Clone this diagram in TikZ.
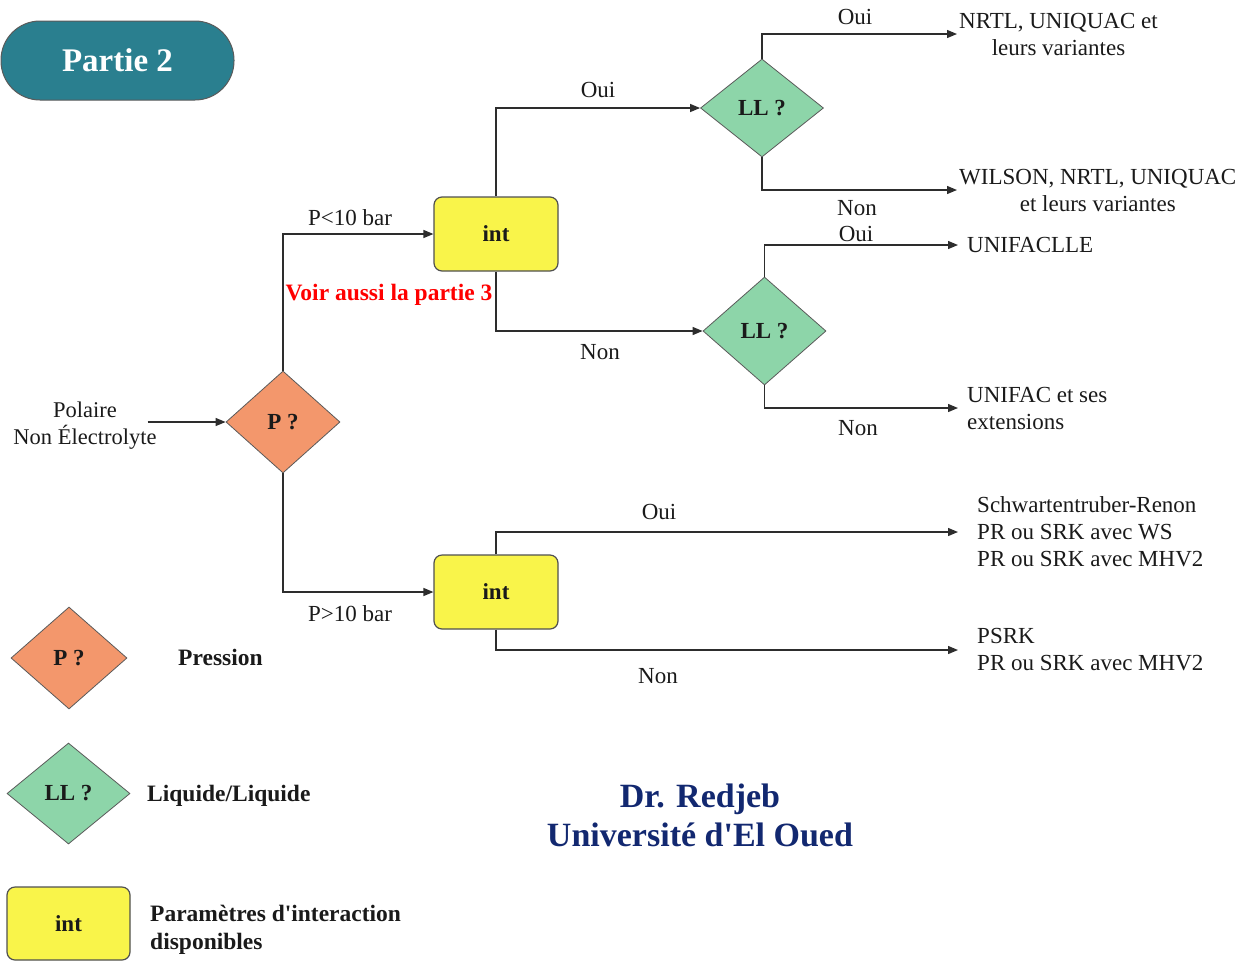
\documentclass[tikz,border=0pt]{standalone}
\usepackage{fontspec}
\setmainfont{Liberation Serif}
\usetikzlibrary{shapes.geometric,arrows.meta}
\definecolor{tealc}{RGB}{42,127,143}
\definecolor{salmon}{RGB}{243,151,108}
\definecolor{llgreen}{RGB}{141,213,169}
\definecolor{intyellow}{RGB}{249,244,74}
\definecolor{navy}{RGB}{18,40,112}
\definecolor{txt}{RGB}{26,26,26}
\definecolor{linec}{RGB}{45,45,45}
\definecolor{diagb}{RGB}{90,90,90}
\definecolor{boxb}{RGB}{80,80,80}
\begin{document}
\begin{tikzpicture}[x=1pt,y=-1pt,
  every node/.style={font=\fontsize{23}{27}\selectfont, text=txt},
  dec/.style={diamond, draw=diagb, line width=0.8pt, inner sep=0pt, font=\fontsize{23}{27}\selectfont\bfseries},
  pdia/.style={dec, fill=salmon, minimum width=114pt, minimum height=102pt},
  lldia/.style={dec, fill=llgreen, minimum width=123pt, minimum height=100pt},
  intbox/.style={rectangle, rounded corners=8pt, draw=boxb, line width=1.2pt, fill=intyellow,
    minimum width=124pt, minimum height=74pt, inner sep=0pt, font=\fontsize{23}{27}\selectfont\bfseries},
  conn/.style={draw=linec, line width=1.3pt, -{Triangle[length=10pt,width=8pt]}},
  outtxt/.style={anchor=west, inner ysep=0pt, inner xsep=2pt},
  legtxt/.style={anchor=west, inner sep=0pt, align=left, font=\fontsize{23.5}{28}\selectfont\bfseries},
]
\useasboundingbox (0,0) rectangle (1250,962);

% title
\node[rectangle, rounded corners=39pt, fill=tealc, draw=diagb, line width=1pt,
  minimum width=233pt, minimum height=79pt, text=white,
  font=\fontsize{33}{38}\selectfont\bfseries] (part) at (117.5,60.5) {Partie 2};

% main nodes
\node[align=center, inner sep=0pt, font=\fontsize{22.5}{27}\selectfont] (src) at (85,426) {Polaire\\Non Électrolyte};
\node[pdia] (pq) at (283,422) {P ?};
\node[intbox] (int1) at (496,234) {int};
\node[intbox] (int2) at (496,592) {int};
\node[lldia, minimum height=98pt] (ll1) at (762,108) {LL ?};
\node[lldia, minimum height=108pt] (ll2) at (764.5,331) {LL ?};

% outputs
\node[outtxt, align=center] (o1) at (957,34) {NRTL, UNIQUAC et\\leurs variantes};
\node[outtxt, align=center] (o2) at (957,190) {WILSON, NRTL, UNIQUAC\\et leurs variantes};
\node[outtxt, inner xsep=9pt] (o3) at (958,245) {UNIFACLLE};
\node[outtxt, inner xsep=9pt, align=left] (o4) at (958,408) {UNIFAC et ses\\extensions};
\node[outtxt, inner xsep=19pt, align=left] (o5) at (958,532) {Schwartentruber-Renon\\PR ou SRK avec WS\\PR ou SRK avec MHV2};
\node[outtxt, inner xsep=19pt, align=left] (o6) at (958,650) {PSRK\\PR ou SRK avec MHV2};

% connectors
\coordinate (s0) at ([xshift=-9pt]src.east);
\draw[conn] (s0 |- pq.west) -- (pq.west);
\draw[conn] (pq.north) |- (int1.west);
\draw[conn] (pq.south) |- (int2.west);
\draw[conn] (int1.north) |- (ll1.west);
\draw[conn] (int1.south) |- (ll2.west);
\draw[conn] (ll1.north) |- (o1.west);
\draw[conn] (ll1.south) |- (o2.west);
\draw[conn] (ll2.north) |- (o3.west);
\draw[conn] (ll2.south) |- (o4.west);
\draw[conn] (int2.north) |- (o5.west);
\draw[conn] (int2.south) |- (o6.west);

% labels
\node (lp1) at (350,218) {P<10 bar};
\node (lp2) at (350,614) {P>10 bar};
\node (loui1) at (598,90) {Oui};
\node (lnon1) at (600,352) {Non};
\node (loui2) at (855,17) {Oui};
\node (lnon2) at (857,208) {Non};
\node (loui3) at (856,234) {Oui};
\node (lnon3) at (858,428) {Non};
\node (loui4) at (659,512) {Oui};
\node (lnon4) at (658,676) {Non};
\node[text=red, font=\fontsize{23.5}{27}\selectfont\bfseries] (voir) at (389,295) {Voir aussi la partie 3};

% legend
\node[pdia, minimum width=116pt] (lgp) at (69,658) {P ?};
\node[legtxt] (lgpt) at (178,657) {Pression};
\node[lldia, minimum height=101pt] (lgll) at (68.5,793.5) {LL ?};
\node[legtxt] (lgllt) at (147,796) {Liquide/Liquide};
\node[intbox, minimum width=123pt, minimum height=73pt] (lgint) at (68.5,923.5) {int};
\node[legtxt] (lgintt) at (150,930) {Paramètres d\textquotesingle interaction\\disponibles};

% credits
\node[align=center, text=navy, font=\fontsize{34}{39}\selectfont\bfseries] (cred) at (700,815) {Dr. Redjeb\\Université d\textquotesingle El Oued};
\end{tikzpicture}
\end{document}
